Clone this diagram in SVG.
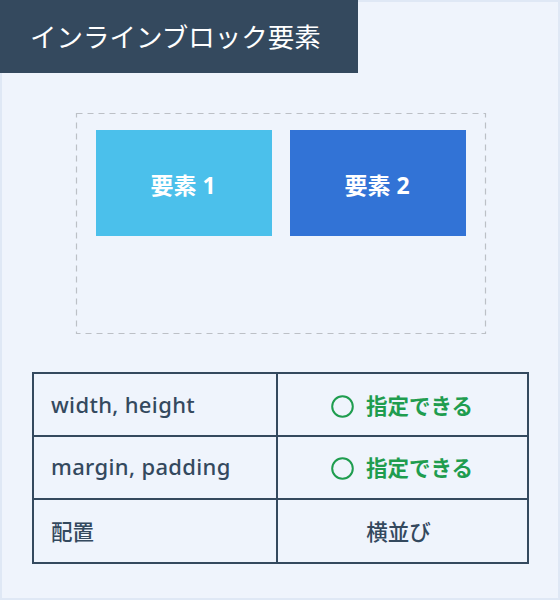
<svg xmlns="http://www.w3.org/2000/svg" width="560" height="600" viewBox="0 0 560 600">
<style>
.f{font-family:"Noto Sans","Noto Sans CJK JP",sans-serif}
.box text{fill:#fff;font-size:23px;font-weight:bold;text-anchor:middle}
.cell{fill:none;stroke:#34495e;stroke-width:2}
.lt{fill:#34495e;font-size:21.5px;font-weight:500}
.lat{font-size:22px;letter-spacing:0.35px}
.ok{fill:#1f9d4f;font-size:21.5px;font-weight:bold;text-anchor:middle}
</style>
<rect x="1" y="1" width="558" height="598" fill="#eff4fc" stroke="#dfe8f5" stroke-width="2"/>
<g id="header">
<rect x="0" y="0" width="358" height="73" fill="#34495e"/>
<text class="f" x="30" y="47" fill="#fff" font-size="26.5">インラインブロック要素</text>
</g>
<g id="container">
<rect x="76.5" y="113.5" width="409" height="220" fill="none" stroke="#bcc0c6" stroke-width="1.2" stroke-dasharray="6,5"/>
</g>
<g id="el1" class="box f">
<rect x="96" y="130" width="176" height="106" fill="#4bc0eb"/>
<text x="183" y="194">要素 1</text>
</g>
<g id="el2" class="box f">
<rect x="290" y="130" width="176" height="106" fill="#3273d6"/>
<text x="377" y="194">要素 2</text>
</g>
<g id="table" class="f">
<rect class="cell" x="33" y="373" width="495" height="190"/>
<line class="cell" x1="33" y1="436" x2="528" y2="436"/>
<line class="cell" x1="33" y1="499" x2="528" y2="499"/>
<line class="cell" x1="277" y1="373" x2="277" y2="563"/>
<text class="lt lat" x="51" y="413">width, height</text>
<text class="lt lat" x="51" y="475">margin, padding</text>
<text class="lt" x="51" y="540">配置</text>
<circle cx="342.5" cy="406.5" r="10.3" fill="none" stroke="#1f9d4f" stroke-width="2"/>
<text class="ok" x="419.5" y="414">指定できる</text>
<circle cx="342.5" cy="468.5" r="10.3" fill="none" stroke="#1f9d4f" stroke-width="2"/>
<text class="ok" x="419.5" y="476">指定できる</text>
<text class="lt" x="398.5" y="540" text-anchor="middle">横並び</text>
</g>
</svg>
